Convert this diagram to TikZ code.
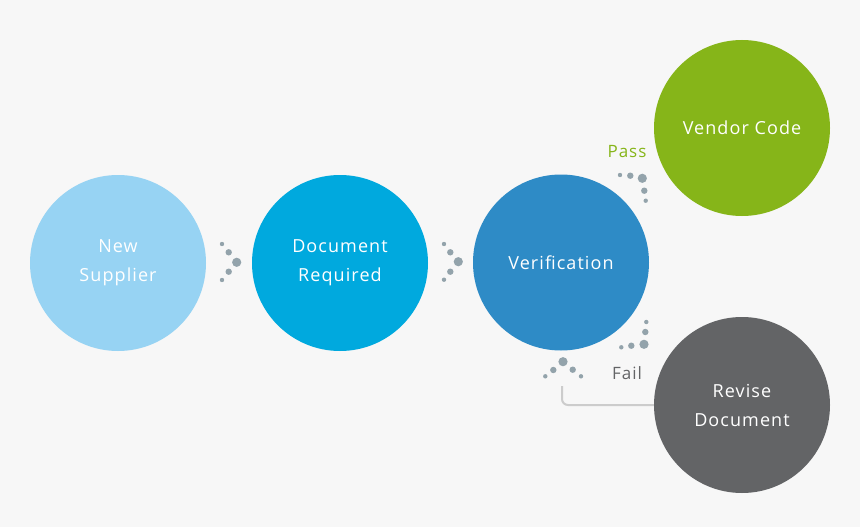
\documentclass[tikz,border=0pt]{standalone}
\usepackage{fontspec}
\setmainfont{Open Sans}[LetterSpace=6]
\definecolor{bg}{HTML}{F7F7F7}
\definecolor{cA}{HTML}{97D3F3}
\definecolor{cB}{HTML}{00A9DE}
\definecolor{cC}{HTML}{2E8BC6}
\definecolor{cD}{HTML}{86B519}
\definecolor{cE}{HTML}{636466}
\definecolor{dotc}{HTML}{93A3AB}
\definecolor{linec}{HTML}{CCCCCC}
\begin{document}
\begin{tikzpicture}[x=1pt,y=-1pt,
  stage/.style={circle, minimum size=176pt, inner sep=0pt, text=white, font=\fontsize{18}{29}\selectfont, align=center},
  dsm/.style={fill=dotc, circle, inner sep=0pt, minimum size=4.4pt},
  dmd/.style={fill=dotc, circle, inner sep=0pt, minimum size=6.4pt},
  dlg/.style={fill=dotc, circle, inner sep=0pt, minimum size=9.2pt},
  lbl/.style={font=\fontsize{17}{19}\selectfont}]
\fill[bg] (0,0) rectangle (860,527);
\useasboundingbox (0,0) rectangle (860,527);
\node[stage, fill=cA] (ns) at (118,263) {New\\Supplier};
\node[stage, fill=cB] (dr) at (340,263) {Document\\Required};
\node[stage, fill=cC] (vf) at (561,262.5) {Verification};
\node[stage, fill=cD] (vc) at (742,128) {Vendor Code};
\node[stage, fill=cE] (rd) at (742,405) {Revise\\Document};
% arrow 1
\node[dsm] (a1) at (222,244) {};
\node[dmd] (a2) at (228.7,252.3) {};
\node[dlg] (a3) at (236.7,262.3) {};
\node[dmd] (a4) at (228.7,271.7) {};
\node[dsm] (a5) at (222,280) {};
% arrow 2
\node[dsm] (b1) at (444,244) {};
\node[dmd] (b2) at (450.3,252.3) {};
\node[dlg] (b3) at (458.3,261.7) {};
\node[dmd] (b4) at (450.3,271.7) {};
\node[dsm] (b5) at (444,279.7) {};
% pass
\node[dsm] (p1) at (620,175) {};
\node[dmd] (p2) at (630.3,175.7) {};
\node[dlg] (p3) at (642.3,178.3) {};
\node[dmd] (p4) at (644.3,190.7) {};
\node[dsm] (p5) at (645.7,200.7) {};
% fail
\node[dsm] (f1) at (646.3,322) {};
\node[dmd] (f2) at (645.3,332) {};
\node[dlg] (f3) at (644,344.3) {};
\node[dmd] (f4) at (631.3,345.7) {};
\node[dsm] (f5) at (621.3,347.3) {};
% back
\node[dsm] (r1) at (545.3,376.3) {};
\node[dmd] (r2) at (553.3,370) {};
\node[dlg] (r3) at (563,361.7) {};
\node[dmd] (r4) at (572.7,369.7) {};
\node[dsm] (r5) at (581,376.3) {};
\node[lbl, text=cD] (pass) at (627,152) {Pass};
\node[lbl, text=cE] (fail) at (627,373) {Fail};
\coordinate (cs) at (562,386);
\draw[linec, line width=2pt, rounded corners=6pt] (cs) |- (rd.west);
\end{tikzpicture}
\end{document}
